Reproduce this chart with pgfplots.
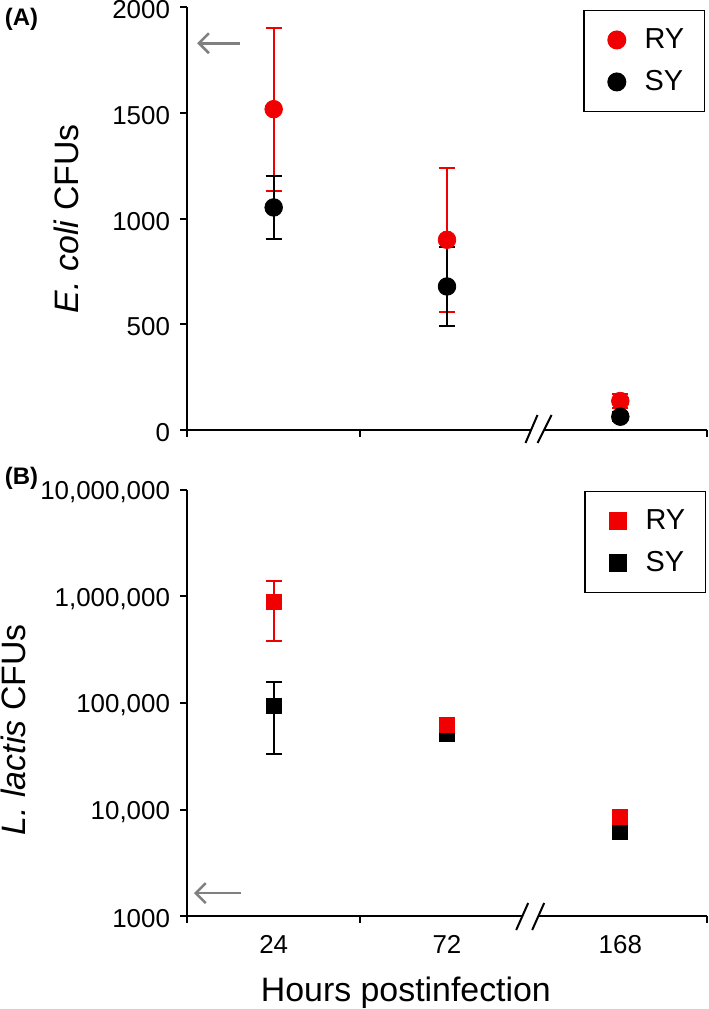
\documentclass[border=0pt]{standalone}
\usepackage{fontspec}
\setmainfont{Liberation Sans}
\usepackage{pgfplots}
\pgfplotsset{compat=1.18}
\usetikzlibrary{arrows.meta}
\definecolor{ryred}{RGB}{240,0,0}
\definecolor{arrgray}{RGB}{128,128,128}
\pgfplotsset{
  myaxis/.style={
    scale only axis, width=260bp,
    axis x line*=bottom, axis y line*=left,
    xmin=-0.5, xmax=2.5,
    tick align=outside, major tick length=3.5bp,
    axis line style={line width=1bp},
    every tick/.style={line width=1bp, black},
    xtick={-0.5,0.5,2.5}, xticklabels={},
    ticklabel style={font=\fontsize{13}{15}\selectfont},
    yticklabel style={xshift=-1.5bp, yshift=-1.3bp},
    /pgf/number format/assume math mode=true,
    label style={font=\fontsize{17}{20}\selectfont},
    legend cell align=left,
    legend image code/.code={\path[draw=none, fill=none] (0cm,-0.1cm) rectangle (0.72cm,0.1cm);
      \draw[##1] plot coordinates {(0.3cm,0cm)};},
    legend style={draw=black, line width=0.7bp, anchor=north east,
      font=\fontsize{14.5}{17}\selectfont, inner xsep=8bp, inner ysep=7bp, row sep=5.5bp},
    clip=false,
  },
  ryerr/.style={error bars/.cd, y dir=both, y explicit,
      error bar style={line width=1bp, ryred},
      error mark options={rotate=90, mark size=4bp, line width=1bp, ryred}},
  syerr/.style={error bars/.cd, y dir=both, y explicit,
      error bar style={line width=1bp, black},
      error mark options={rotate=90, mark size=4bp, line width=1bp, black}},
}
\begin{document}
\begin{tikzpicture}
\useasboundingbox (-93.5bp,-289.5bp) rectangle (261bp,215bp);
\begin{axis}[myaxis, at={(0,0)}, anchor=south west,
  height=211.35bp, ymin=0, ymax=2000,
  ytick={0,500,1000,1500,2000}, yticklabels={0,500,1000,1500,2000},
  ylabel={\textit{E. coli} CFUs},
  ylabel style={at={(axis description cs:-0.2327,0.5)}, anchor=center},
  legend style={at={(0.996,0.994)}},
]
\addplot[only marks, mark=*, mark size=4.4bp, ryred, mark options={fill=ryred, draw=ryred}, ryerr]
  coordinates {(0,1518) +- (0,386) (1,900) +- (0,340) (2,137) +- (0,35)};
\addlegendentry{RY}
\addplot[only marks, mark=*, mark size=4.4bp, black, mark options={fill=black, draw=black}, syerr]
  coordinates {(0,1053) +- (0,150) (1,679) +- (0,185) (2,63) +- (0,20)};
\addlegendentry{SY}
\draw[arrgray, line width=1.3bp, -{Straight Barb[length=5bp,width=10bp]}] (axis cs:-0.194,1830) -- (axis cs:-0.442,1830);
\coordinate (brkA) at (rel axis cs:0.676,0);
\end{axis}
\begin{scope}[shift={(brkA)}]
\fill[white] (-6.5bp,-6.5bp) -- (-0.5bp,7.5bp) -- (6.5bp,7.5bp) -- (-0.5bp,-6.5bp) -- cycle;
\draw[line width=1bp] (-6.5bp,-6.5bp) -- (-0.5bp,7.5bp);
\draw[line width=1bp] (-0.5bp,-6.5bp) -- (6.5bp,7.5bp);
\end{scope}
\node[font=\fontsize{12}{14}\selectfont\bfseries] at (-82.75bp,205.5bp) {(A)};
\node[font=\fontsize{12}{14}\selectfont\bfseries] at (-82.75bp,-24.25bp) {(B)};

\begin{axis}[myaxis, at={(0,-243bp)}, anchor=south west,
  height=213bp, ymode=log, ymin=1000, ymax=10000000,
  ytick={1000,10000,100000,1000000,10000000},
  yticklabels={1000,{10,000},{100,000},{1,000,000},{10,000,000}},
  yminorticks=false,
  extra x ticks={0,1,2}, extra x tick labels={24,72,168},
  extra x tick style={major tick length=0pt, xticklabel style={yshift=-6bp}},
  xlabel={Hours postinfection},
  xlabel style={at={(axis description cs:0.421,-0.181)}, anchor=center},
  ylabel={\textit{L. lactis} CFUs},
  ylabel style={at={(axis description cs:-0.3346,0.437)}, anchor=center},
  legend style={at={(0.998,0.998)}},
]
\addlegendimage{only marks, mark=square*, mark size=4.2bp, ryred, mark options={fill=ryred, draw=ryred}}
\addlegendentry{RY}
\addlegendimage{only marks, mark=square*, mark size=4.2bp, black, mark options={fill=black, draw=black}}
\addlegendentry{SY}
\addplot[forget plot, only marks, mark=square*, mark size=3.75bp, black, mark options={fill=black, draw=black}, syerr]
  coordinates {(0,94400) += (0,62600) -= (0,61400) (1,53400) += (0,4000) -= (0,9000) (2,6100) += (0,400) -= (0,400)};
\addplot[forget plot, only marks, mark=square*, mark size=3.75bp, ryred, mark options={fill=ryred, draw=ryred}, ryerr]
  coordinates {(0,885000) += (0,525000) -= (0,499000) (1,61700) += (0,4000) -= (0,4000) (2,8550) += (0,500) -= (0,500)};
\draw[arrgray, line width=1.3bp, -{Straight Barb[length=5bp,width=10bp]}] (axis cs:-0.19,1640) -- (axis cs:-0.46,1640);
\coordinate (brkB) at (rel axis cs:0.660,0);
\end{axis}
\begin{scope}[shift={(brkB)}]
\fill[white] (-7bp,-7bp) -- (-1bp,6.5bp) -- (7bp,6.5bp) -- (1bp,-7bp) -- cycle;
\draw[line width=1bp] (-7bp,-7bp) -- (-1bp,6.5bp);
\draw[line width=1bp] (1bp,-7bp) -- (7bp,6.5bp);
\end{scope}
\end{tikzpicture}
\end{document}
